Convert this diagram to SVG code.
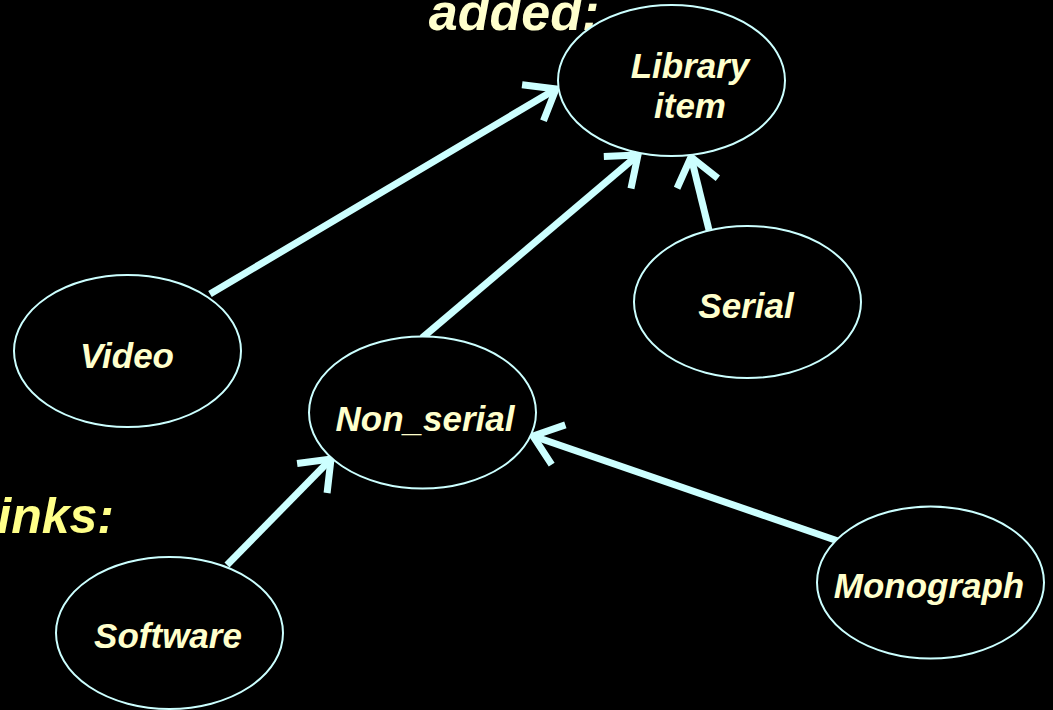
<svg xmlns="http://www.w3.org/2000/svg" width="1053" height="710" viewBox="0 0 1053 710">
<defs>
<style>
.node ellipse{fill:#000;stroke:#CCFFFF;stroke-width:2}
.node text,.title{font-family:"Liberation Sans",Arial,sans-serif;font-weight:bold;font-style:italic;fill:#FFFFCC;text-anchor:middle}
.node text{font-size:35px}
.title{font-size:52px}
#connectors line{stroke:#CCFFFF;stroke-width:7;marker-end:url(#arr)}
</style>
<marker id="arr" markerUnits="userSpaceOnUse" markerWidth="60" markerHeight="60" refX="0" refY="0" orient="auto" overflow="visible">
<path d="M-27,-21 L0,0 L-27,21" fill="none" stroke="#CCFFFF" stroke-width="7" stroke-linejoin="miter"/>
</marker>
</defs>
<rect width="1053" height="710" fill="#000"/>
<text class="title" x="514" y="30">added:</text>
<text class="title" x="114" y="533" style="text-anchor:end;fill:#FFFF88;font-size:50px">inks:</text>
<g id="connectors">
<line x1="210" y1="294" x2="556" y2="89"/>
<line x1="422" y1="338" x2="638" y2="155"/>
<line x1="709" y1="230" x2="691" y2="157"/>
<line x1="227" y1="565" x2="331" y2="459"/>
<line x1="838" y1="541" x2="533" y2="436"/>
</g>
<g id="library_item" class="node"><ellipse cx="671.5" cy="80.5" rx="113.5" ry="75.5"/><text x="690" y="78">Library</text><text x="690" y="118">item</text></g>
<g id="serial" class="node"><ellipse cx="747.5" cy="302" rx="113.5" ry="76"/><text x="746" y="318">Serial</text></g>
<g id="video" class="node"><ellipse cx="127.5" cy="351" rx="113.5" ry="76"/><text x="127" y="368">Video</text></g>
<g id="non_serial" class="node"><ellipse cx="422.5" cy="412.5" rx="113.5" ry="76"/><text x="425" y="431">Non_serial</text></g>
<g id="software" class="node"><ellipse cx="169.5" cy="633" rx="113.5" ry="76"/><text x="168" y="648">Software</text></g>
<g id="monograph" class="node"><ellipse cx="930.5" cy="582.5" rx="113.5" ry="76"/><text x="929" y="598">Monograph</text></g>
</svg>
